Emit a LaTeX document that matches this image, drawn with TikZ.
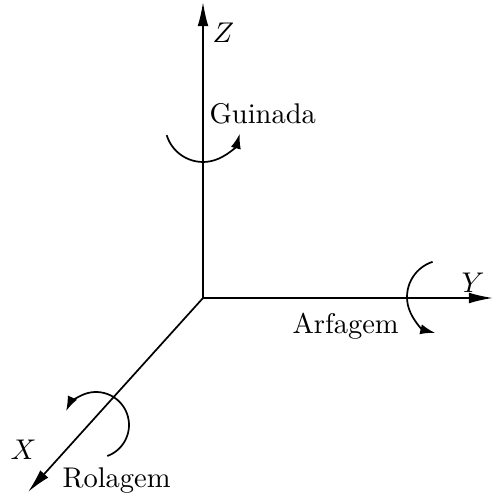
\documentclass[tikz,border=0pt]{standalone}
\usetikzlibrary{arrows.meta}
\begin{document}
\begin{tikzpicture}[x=0.351pt,y=-0.351pt,
  axis/.style={line width=0.6pt,-{Latex[length=8.5pt,width=3.8pt]}},
  rot/.style={line width=0.6pt,-{Latex[length=5.2pt,width=3.6pt]}},
  lbl/.style={inner sep=0pt,anchor=base west}]
\useasboundingbox (0,0) rectangle (493,497);
\coordinate (O) at (203,298);
\coordinate (Zt) at (203,2);
\coordinate (Yt) at (493,298);
\coordinate (Xt) at (28,492);
\draw[axis] (O) -- (Zt);
\draw[axis] (O) -- (Yt);
\draw[axis] (O) -- (Xt);
\node[lbl] (zl) at (212,43) {$Z$};
\node[lbl] (yl) at (461,292) {$Y$};
\node[lbl] (xl) at (10,459) {$X$};
\node[lbl] (gui) at (209,124) {Guinada};
\node[lbl] (arf) at (292,333) {Arfagem};
\node[lbl] (rol) at (62,487) {Rolagem};
\coordinate (cg) at (203,124);
\coordinate (ca) at (444,297);
\coordinate (cr) at (96,425);
\draw[rot] ([shift={(163:38)}]cg) arc[start angle=163,end angle=15,radius=38];
\draw[rot] ([shift={(252:37)}]ca) arc[start angle=252,end angle=104,radius=37];
\draw[rot] ([shift={(70:33)}]cr) arc[start angle=70,end angle=-155,radius=33];
\end{tikzpicture}
\end{document}
